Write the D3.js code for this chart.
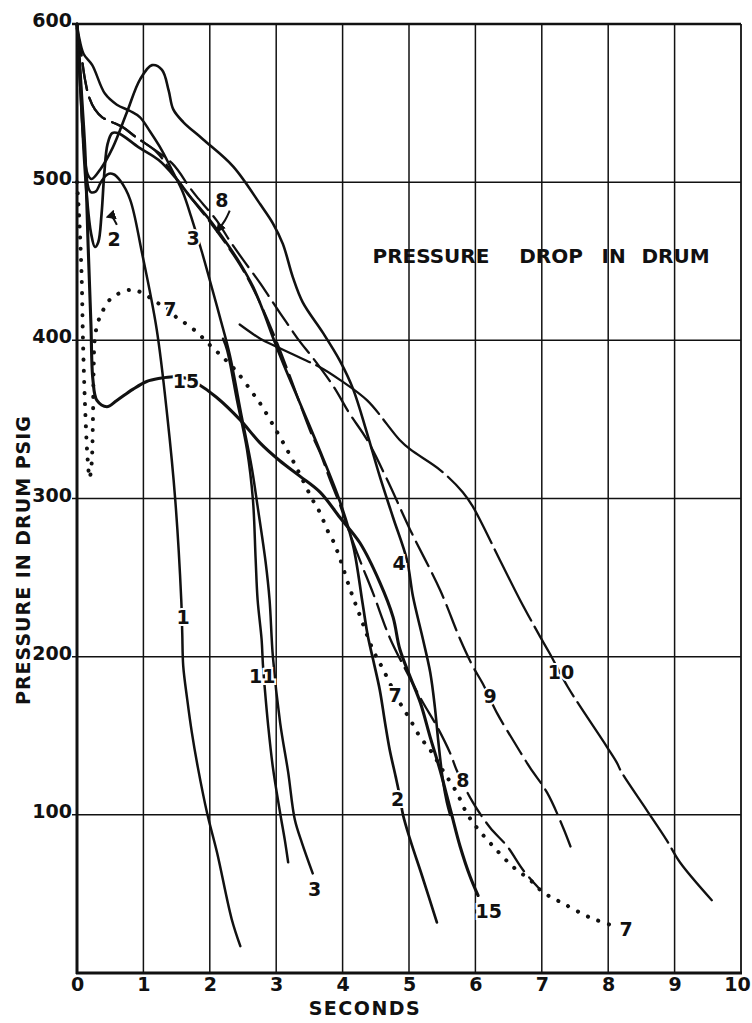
<!DOCTYPE html>
<html><head><meta charset="utf-8">
<script src="https://cdn.jsdelivr.net/npm/d3@7"></script>
<style>
body{margin:0;background:#fff;}
svg text{font-family:"DejaVu Sans",sans-serif;font-weight:bold;fill:#111;}
</style></head><body>
<svg id="chart" width="752" height="1023"></svg>
<script>
// ---- data (seconds, psig) ----
const xTicks=[0,1,2,3,4,5,6,7,8,9,10];
const yTicks=[100,200,300,400,500,600];
const curve1=[[0,600],[0.04,575],[0.09,535],[0.14,505],[0.2,494],[0.28,494],[0.36,500],[0.46,505],[0.55,505],[0.65,501],[0.8,489],[0.98,455],[1.2,407],[1.36,352],[1.48,299],[1.57,236],[1.585,215],[1.6,194],[1.66,173],[1.73,152],[1.82,130],[1.96,101],[2.11,76],[2.33,34],[2.46,17]];
const curve2=[[0,600],[0.05,560],[0.1,520],[0.15,490],[0.21,468],[0.27,459],[0.32,462],[0.37,480],[0.41,505],[0.46,524],[0.53,531],[0.62,531],[0.93,522],[1.23,514],[1.48,503],[1.7,491],[2.0,476],[2.26,461],[2.45,449],[2.65,434],[2.8,419],[2.95,402],[3.1,386],[3.36,360],[3.66,330],[3.96,298],[4.16,270],[4.3,234],[4.38,213],[4.46,198],[4.56,179],[4.64,158],[4.71,141],[4.8,124],[4.86,112],[4.91,100],[5.02,84],[5.2,61],[5.42,32]];
const curve3=[[0,600],[0.03,592],[0.1,581],[0.23,574],[0.42,556],[0.6,549],[0.8,545],[0.95,541],[1.1,532],[1.28,520],[1.45,506],[1.6,493],[1.72,478],[1.88,456],[2.0,438],[2.15,415],[2.3,391],[2.48,352],[2.63,320],[2.72,295],[2.84,260],[2.9,236],[2.95,200],[3.06,158],[3.18,127],[3.28,97],[3.39,82],[3.55,63]];
const curve4=[[0,600],[0.05,560],[0.1,525],[0.16,505],[0.22,502],[0.35,508],[0.54,522],[0.75,544],[0.95,565],[1.13,574],[1.28,571],[1.38,558],[1.45,546],[1.6,538],[1.9,527],[2.35,510],[2.76,486],[2.95,474],[3.1,461],[3.25,440],[3.4,424],[3.7,405],[3.96,387],[4.16,369],[4.37,341],[4.56,314],[4.76,288],[4.97,261],[5.06,238],[5.21,211],[5.32,190],[5.39,168],[5.44,147],[5.51,122],[5.57,108],[5.62,100]];
const curve7=[[0,500],[0.03,480],[0.07,440],[0.09,400],[0.12,360],[0.16,325],[0.19,313],[0.22,322],[0.24,350],[0.25,380],[0.27,402],[0.32,412],[0.38,418],[0.5,426],[0.65,430],[0.83,432],[0.98,430],[1.2,424],[1.4,419],[1.51,414],[1.66,410],[1.81,405],[1.93,400],[2.05,395],[2.18,390],[2.41,380],[2.64,367],[2.76,360],[3.0,343],[3.2,328],[3.36,315],[3.55,299],[3.66,291],[3.77,280],[3.86,273],[3.96,262],[4.11,243],[4.26,226],[4.46,204],[4.61,192],[4.76,179],[4.86,171],[5.02,160],[5.17,149],[5.32,141],[5.51,128],[5.72,114],[5.87,101],[6.02,92],[6.27,80],[6.57,67],[6.82,59],[7.02,51],[7.32,44],[7.73,35],[8.07,30]];
const curve8=[[0,597],[0.05,585],[0.12,565],[0.18,554],[0.27,546],[0.38,541],[0.68,535],[0.87,529],[1.2,519],[1.45,505],[1.7,491],[2.0,475],[2.26,460],[2.45,448],[2.65,433],[2.95,405],[3.2,378],[3.51,343],[3.66,329],[3.81,312],[3.96,296],[4.1,279],[4.26,261],[4.46,240],[4.71,212],[4.97,190],[5.21,171],[5.42,156],[5.62,139],[5.72,128],[5.96,108],[6.22,92],[6.48,80],[6.72,65],[6.97,53]];
const curve9=[[0,597],[0.05,585],[0.12,565],[0.18,554],[0.27,546],[0.38,541],[0.68,535],[0.87,529],[1.43,512],[1.69,497],[1.8,491],[2.1,476],[2.3,463],[2.5,451],[2.76,436],[2.95,424],[3.16,411],[3.36,399],[3.55,389],[3.86,371],[4.1,354],[4.37,337],[4.67,312],[5.02,280],[5.47,242],[5.77,211],[5.96,194],[6.11,183],[6.33,164],[6.57,147],[6.82,130],[7.08,114],[7.32,92],[7.45,78]];
const curve10=[[2.45,410],[2.76,401],[2.95,397],[3.36,389],[3.66,383],[3.96,375],[4.37,362],[4.86,337],[5.02,331],[5.47,318],[5.81,304],[5.96,295],[6.37,261],[6.67,236],[6.97,213],[7.12,202],[7.39,181],[7.98,143],[8.13,133],[8.2,127],[8.58,103],[8.88,84],[9.08,70],[9.56,46]];
const curve11=[[2.2,401],[2.26,394],[2.41,362],[2.56,331],[2.65,299],[2.69,262],[2.72,236],[2.78,211],[2.8,195],[2.83,179],[2.88,156],[2.95,130],[3.06,101],[3.13,84],[3.18,70]];
const curve15=[[0,600],[0.04,575],[0.08,548],[0.12,520],[0.17,457],[0.21,410],[0.24,375],[0.3,362],[0.45,358],[0.6,362],[0.84,369],[1.05,374],[1.25,376],[1.45,377],[1.65,376],[1.8,373],[2.1,364],[2.45,350],[2.76,335],[3.05,324],[3.36,314],[3.66,304],[3.96,288],[4.26,272],[4.56,247],[4.76,225],[4.86,205],[5.02,187],[5.17,171],[5.32,149],[5.47,128],[5.57,112],[5.65,99],[5.77,80],[5.92,61],[6.04,49]];
const curveLabels=[["1",1.6,225],["2",0.56,464],["3",1.75,465],["8",2.18,489],["7",1.4,420],["15",1.64,374],["11",2.79,188],["3",3.58,53],["7",4.79,176],["2",4.83,110],["8",5.81,122],["15",6.2,39],["9",6.22,175],["10",7.29,190],["7",8.27,28],["4",4.85,259]];
const arrows=[[[0.6,473],[0.53,479],[0.46,478]],[[2.3,482],[2.24,476],[2.11,469]]];
const titleWords=[["PRESSURE",4.45],["DROP",6.66],["IN",7.9],["DRUM",8.5]];
const titleY=449;

// ---- drawing ----
const svg=d3.select("#chart");
const x=d3.scaleLinear().domain([0,10]).range([77,741]);
const y=d3.scaleLinear().domain([0,600]).range([973,24]);

const series=[
 {d:curve1,w:2.5,dash:null},
 {d:curve2,w:2.7,dash:null},
 {d:curve3,w:2.5,dash:null},
 {d:curve4,w:2.6,dash:null},
 {d:curve11,w:2.5,dash:null},
 {d:curve15,w:3.1,dash:null},
 {d:curve10,w:2.3,dash:"80,7"},
 {d:curve9,w:2.3,dash:"27,8"},
 {d:curve8,w:2.3,dash:"27,8"},
 {d:curve7,w:4.0,dash:"0.1,11"}
];

// grid
const g=svg.append("g");
g.selectAll(".vg").data(xTicks.filter(t=>t>0)).join("line")
 .attr("x1",d=>x(d)).attr("x2",d=>x(d)).attr("y1",y(0)).attr("y2",y(600))
 .attr("stroke","#111").attr("stroke-width",d=>d===10?1.8:1.5);
g.selectAll(".hg").data(yTicks).join("line")
 .attr("x1",x(0)-5).attr("x2",x(10)).attr("y1",d=>y(d)).attr("y2",d=>y(d))
 .attr("stroke","#111").attr("stroke-width",d=>d===600?2.6:1.5);
// axes frame
g.append("line").attr("x1",x(0)).attr("x2",x(0)).attr("y1",y(0)+1).attr("y2",y(600)-1).attr("stroke","#111").attr("stroke-width",3);
g.append("line").attr("x1",x(0)-1).attr("x2",x(10)+1).attr("y1",y(0)).attr("y2",y(0)).attr("stroke","#111").attr("stroke-width",3);

// tick labels via d3 axes
const ax=svg.append("g").attr("transform",`translate(0,${y(0)})`)
 .call(d3.axisBottom(x).tickValues(xTicks).tickSize(0).tickPadding(5).tickFormat(d3.format("d")));
ax.select(".domain").remove();
ax.selectAll("text").style("font-size","19px").style("font-family","DejaVu Sans").style("font-weight","bold").attr("fill","#111")
 .attr("dx",d=>d===10?"-4px":null);
const ay=svg.append("g").attr("transform",`translate(${x(0)-5},0)`)
 .call(d3.axisLeft(y).tickValues(yTicks).tickSize(0).tickPadding(0).tickFormat(d3.format("d")));
ay.select(".domain").remove();
ay.selectAll("text").style("font-size","19px").style("font-family","DejaVu Sans").style("font-weight","bold").attr("fill","#111").attr("dy","2.5px");

// curves
const line=d3.line().x(d=>x(d[0])).y(d=>y(d[1])).curve(d3.curveCatmullRom.alpha(0.5));
svg.append("g").selectAll("path").data(series).join("path")
 .attr("d",s=>line(s.d)).attr("fill","none").attr("stroke","#111")
 .attr("stroke-width",s=>s.w).attr("stroke-linecap","round").attr("stroke-linejoin","round")
 .attr("stroke-dasharray",s=>s.dash);

// curve labels
svg.append("g").selectAll("text").data(curveLabels).join("text")
 .attr("x",d=>x(d[1])).attr("y",d=>y(d[2])).attr("text-anchor","middle").attr("dominant-baseline","central")
 .style("font-size","19px").attr("stroke","#fff").attr("stroke-width",4).style("paint-order","stroke")
 .text(d=>d[0]);

// small arrows
svg.append("defs").append("marker").attr("id","ah").attr("viewBox","0 0 10 10").attr("refX",8).attr("refY",5)
 .attr("markerWidth",5).attr("markerHeight",5).attr("orient","auto")
 .append("path").attr("d","M0,0L10,5L0,10z").attr("fill","#111");
const aline=d3.line().x(d=>x(d[0])).y(d=>y(d[1])).curve(d3.curveBasis);
svg.append("g").selectAll("path").data(arrows).join("path").attr("d",aline)
 .attr("fill","none").attr("stroke","#111").attr("stroke-width",2).attr("marker-end","url(#ah)");

// titles
svg.append("g").selectAll("text").data(titleWords).join("text")
 .attr("x",d=>x(d[1])).attr("y",y(titleY)).style("font-size","20px").text(d=>d[0]);
svg.append("text").attr("x",365).attr("y",1015).attr("text-anchor","middle")
 .style("font-size","19px").style("letter-spacing","1.5px").text("SECONDS");
svg.append("text").attr("transform","translate(30,560) rotate(-90)").attr("text-anchor","middle")
 .style("font-size","19px").style("letter-spacing","1px").text("PRESSURE IN DRUM PSIG");
</script>
</body></html>
